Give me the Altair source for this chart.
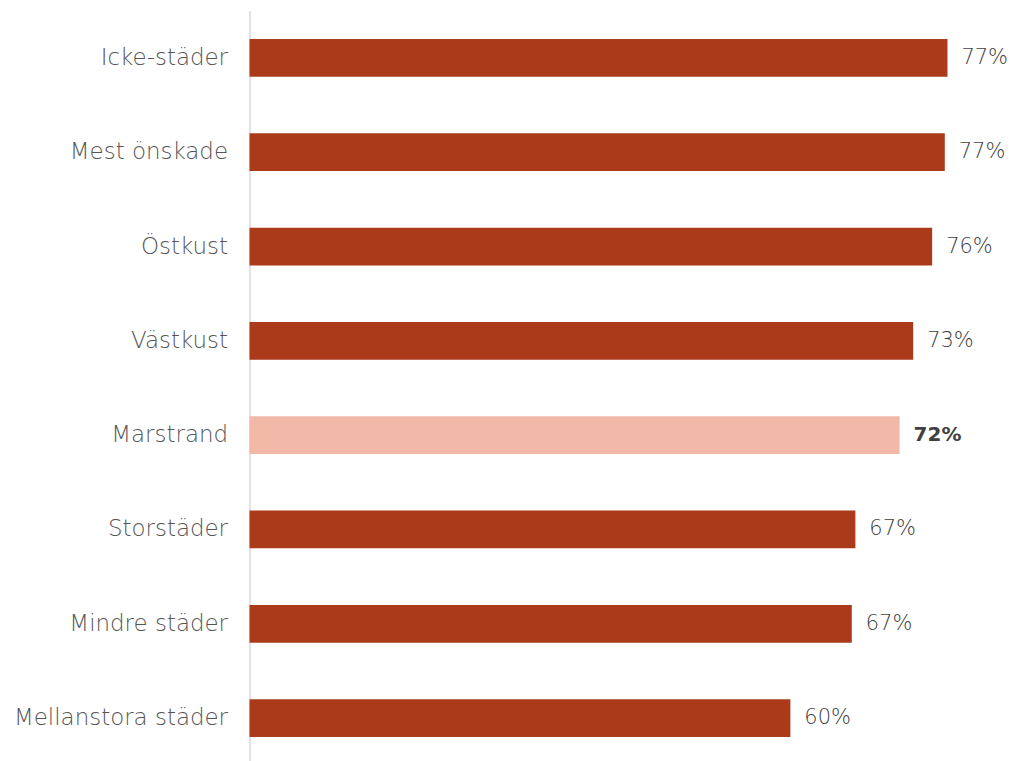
import altair as alt
import pandas as pd

categories = ["Icke-städer", "Mest önskade", "Östkust", "Västkust", "Marstrand",
              "Storstäder", "Mindre städer", "Mellanstora städer"]
values = [77.3, 77.0, 75.6, 73.5, 72.0, 67.1, 66.7, 59.9]
labels = ["77%", "77%", "76%", "73%", "72%", "67%", "67%", "60%"]
highlight = [False, False, False, False, True, False, False, False]

df = pd.DataFrame({"cat": categories, "val": values, "lab": labels, "hl": highlight})

FONT = "DejaVu Sans"

y = alt.Y("cat:N", sort=categories, title=None,
          scale=alt.Scale(paddingInner=0.6, paddingOuter=0.3),
          axis=alt.Axis(labelFont=FONT, labelFontSize=23, labelFontWeight=300,
                        labelColor="#555555",
                        ticks=False, labelPadding=22, domainColor="#D9D9D9",
                        domainWidth=1.5, labelLimit=400, grid=False))
x = alt.X("val:Q", title=None, scale=alt.Scale(domain=[0, 84], nice=False),
          axis=None)

base = alt.Chart(df)

bars = base.mark_bar().encode(
    x=x, y=y,
    color=alt.Color("hl:N", scale=alt.Scale(domain=[False, True],
                                             range=["#AB3A1B", "#F2B9A8"]),
                    legend=None),
)

text_normal = base.transform_filter("!datum.hl").mark_text(
    align="left", dx=14, font=FONT, fontSize=21, fontWeight=300,
    color="#404040").encode(
    x=x, y=alt.Y("cat:N", sort=categories), text="lab:N")

text_bold = base.transform_filter("datum.hl").mark_text(
    align="left", dx=14, font=FONT, fontSize=20, fontWeight="bold",
    color="#404040").encode(
    x=x, y=alt.Y("cat:N", sort=categories), text="lab:N")

chart = (bars + text_normal + text_bold).properties(
    width=760, height=756, background="white",
    padding={"left": 5, "top": 2, "right": 0, "bottom": 0},
).configure_view(stroke=None)

chart.save("out.html", embed_options={"renderer": "svg", "actions": False})
